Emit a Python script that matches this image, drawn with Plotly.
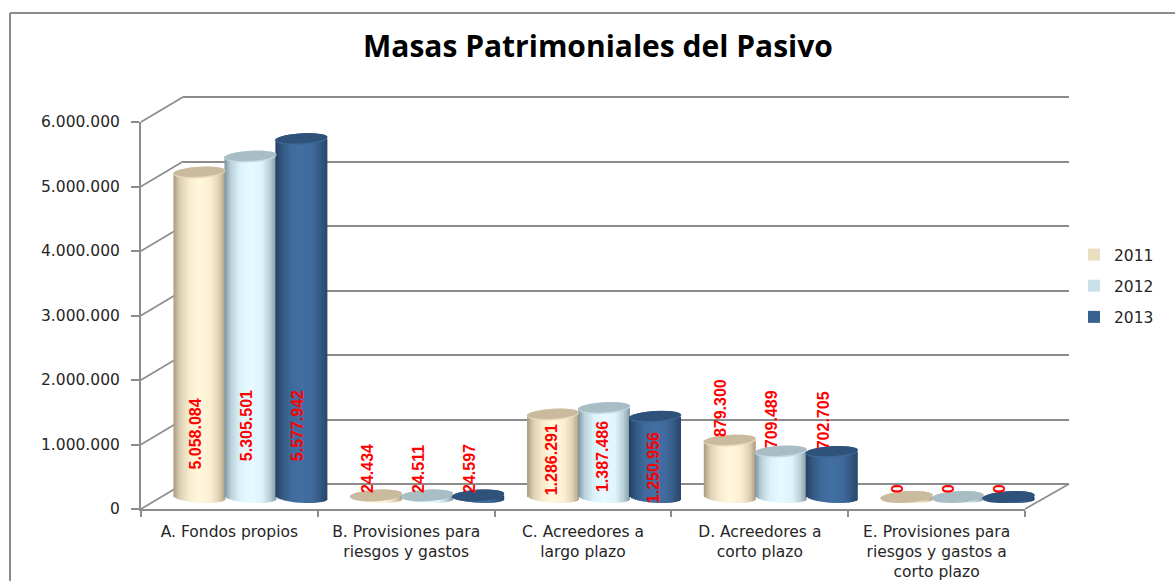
import math
import plotly.graph_objects as go

CATEGORIES = ["A. Fondos propios", "B. Provisiones para<br>riesgos y gastos", "C. Acreedores a<br>largo plazo",
              "D. Acreedores a<br>corto plazo", "E. Provisiones para<br>riesgos y gastos a<br>corto plazo"]
YEARS = ["2011", "2012", "2013"]
V2011 = [5058084, 24434, 1286291, 879300, 0]
V2012 = [5305501, 24511, 1387486, 709489, 0]
V2013 = [5577942, 24597, 1250956, 702705, 0]
Y_TICKS = [0, 1000000, 2000000, 3000000, 4000000, 5000000, 6000000]
TITLE = "Masas Patrimoniales del Pasivo"

# label anchor heights (axis units) and horizontal nudges (px)
LABEL_Y_2011 = [980000, 440000, 580000, 1390000, 130000]
LABEL_Y_2012 = [1110000, 440000, 630000, 1217000, 130000]
LABEL_Y_2013 = [1110000, 440000, 457000, 1200000, 130000]
LABEL_DX = [-4, -8, -1.5, -8.5, -9]

W, H = 1175, 581
FRONT_X = (141, 1025); FRONT_Y = (509, 122)
BACK_X = (183, 1069);  BACK_Y = (484, 97)
MID_X = (162, 1046);   MID_Y = (497, 112)
YMAX = 6000000
BELOW = 300000         # room under zero for the rounded cylinder bottoms
GRAY = "#8c8c8c"
TEXT = "#262626"
FONT = "DejaVu Sans"

def px(v): return v / W
def py(v): return 1 - v / H
def xdom(r): return [px(r[0]), px(r[1])]
def ydom(r): return [py(r[0]), py(r[1])]

SERIES = [V2011, V2012, V2013]
LABEL_Y = [LABEL_Y_2011, LABEL_Y_2012, LABEL_Y_2013]
STOPS = [
    [(0, "#a79a80"), (.12, "#dccfb2"), (.3, "#f8ecd0"), (.5, "#fff8dc"), (.72, "#fbefd2"), (.88, "#dfd0b2"), (1, "#ac9d83")],
    [(0, "#7b929b"), (.12, "#b9d0d9"), (.3, "#dcf2fa"), (.5, "#e6faff"), (.72, "#dff4fb"), (.88, "#b8ced6"), (1, "#8199a3")],
    [(0, "#233f62"), (.12, "#33577f"), (.3, "#3f6a9d"), (.5, "#426ea3"), (.72, "#3f6a9d"), (.88, "#33567e"), (1, "#27466b")],
]
CAP = ["#cbbb9e", "#a9bdc4", "#2f527b"]
RIM = ["#e9d9ba", "#c4d8e0", "#3d6898"]

def hex2(c): return [int(c[i:i + 2], 16) for i in (1, 3, 5)]
def ramp(stops, t):
    for (a, ca), (b, cb) in zip(stops, stops[1:]):
        if t <= b:
            f = (t - a) / (b - a)
            A, B = hex2(ca), hex2(cb)
            return "rgb(%d,%d,%d)" % tuple(round(p + (q - p) * f) for p, q in zip(A, B))
    return stops[-1][1]

PXU = (MID_X[1] - MID_X[0]) / 5           # px per category
PYU = (MID_Y[0] - MID_Y[1]) / YMAX        # px per value unit
BAR_W = 52 / PXU
STEP = 51 / PXU
RY = 5.8 / PYU
TILT = 1.5 / PYU
N = 26

fig = go.Figure()
# back wall gridlines
fig.add_trace(go.Scatter(x=[0], y=[0], xaxis="x", yaxis="y", mode="markers", marker_opacity=0,
                         showlegend=False, hoverinfo="skip"))
# front axes
fig.add_trace(go.Scatter(x=CATEGORIES, y=[0] * 5, xaxis="x2", yaxis="y2", mode="markers", marker_opacity=0,
                         showlegend=False, hoverinfo="skip"))
idx = list(range(len(CATEGORIES)))
shapes = []
for s, vals in enumerate(SERIES):
    left = (s - 1) * STEP - BAR_W / 2
    sw = BAR_W / N
    for k in range(N):
        t = (k + .5) / N
        u = 2 * t - 1
        bow = math.sqrt(max(0, 1 - u * u))
        base = -RY * bow - TILT * u
        fig.add_trace(go.Bar(
            x=idx, y=[v - base for v in vals], base=[base] * 5,
            offset=left + k * sw, width=sw * (1.6 if k < N - 1 else 1),
            marker=dict(color=ramp(STOPS[s], t), line_width=0),
            xaxis="x3", yaxis="y3", name=YEARS[s], legendgroup=YEARS[s],
            showlegend=(k == 5), hoverinfo="skip"))
    for i, v in enumerate(vals):
        cx = i + (s - 1) * STEP
        def ell(cy, ry):
            pts = []
            for a in range(0, 360, 10):
                r = math.radians(a)
                pts.append((cx + BAR_W / 2 * math.cos(r), cy + ry * math.sin(r) + TILT * math.cos(r)))
            return "M" + "L".join(f"{x:.5f},{y:.1f}" for x, y in pts) + "Z"
        for path, col in ((ell(v, RY), CAP[s] if v < 100000 else RIM[s]),
                          (ell(v + .12 * RY, .85 * RY), CAP[s])):
            shapes.append(dict(type="path", path=path, xref="x3", yref="y3", fillcolor=col, line_width=0, layer="above"))

# floor and wall diagonals
for fy, by in zip([FRONT_Y[0] + (FRONT_Y[1] - FRONT_Y[0]) * t / YMAX for t in Y_TICKS],
                  [BACK_Y[0] + (BACK_Y[1] - BACK_Y[0]) * t / YMAX for t in Y_TICKS]):
    shapes.append(dict(type="line", xref="paper", yref="paper", x0=px(FRONT_X[0]), y0=py(fy), x1=px(BACK_X[0]), y1=py(by),
                       line=dict(color=GRAY, width=1.6), layer="below"))
shapes.append(dict(type="line", xref="paper", yref="paper", x0=px(FRONT_X[1]), y0=py(FRONT_Y[0]), x1=px(BACK_X[1]), y1=py(BACK_Y[0]),
                   line=dict(color=GRAY, width=1.6), layer="below"))
# outer chart frame
shapes.append(dict(type="line", xref="paper", yref="paper", x0=px(10), y0=py(13), x1=1, y1=py(13), line=dict(color=GRAY, width=2), layer="below"))
shapes.append(dict(type="line", xref="paper", yref="paper", x0=px(10), y0=py(13), x1=px(10), y1=0, line=dict(color=GRAY, width=2), layer="below"))

annotations = [dict(text=f"<b>{TITLE}</b>", xref="paper", yref="paper", x=px(598.5), y=py(45), yanchor="middle", showarrow=False,
                    font=dict(family="Open Sans", size=30, color="#000000"))]
for s, vals in enumerate(SERIES):
    for i, v in enumerate(vals):
        annotations.append(dict(
            text="<b>" + f"{v:,d}".replace(",", ".") + "</b>", xref="x3", yref="y3",
            x=i + (s - 1) * STEP, y=LABEL_Y[s][i], xshift=LABEL_DX[i], showarrow=False, textangle=-90,
            font=dict(family="Liberation Sans", size=16, color="#ff0000")))

PAD = 0.01  # back wall runs slightly past its end gridlines so that both are drawn
axis_off = dict(showgrid=False, zeroline=False, showticklabels=False, ticks="", showline=False, fixedrange=True)
pad_px = (BACK_Y[0] - BACK_Y[1]) * PAD
fig.update_layout(
    width=W, height=H, margin=dict(l=0, r=0, t=0, b=0, autoexpand=False), paper_bgcolor="#ffffff", plot_bgcolor="rgba(0,0,0,0)",
    barmode="overlay", separators=",.", showlegend=True, font=dict(family=FONT, color=TEXT),
    xaxis=dict(domain=xdom(BACK_X), range=[0, 1], **axis_off),
    yaxis=dict(domain=ydom((BACK_Y[0] + pad_px, BACK_Y[1] - pad_px)), range=[-PAD * YMAX, (1 + PAD) * YMAX], tickvals=Y_TICKS,
               showgrid=True, gridcolor=GRAY, gridwidth=1.6,
               zeroline=False, showticklabels=False, ticks="", showline=False, fixedrange=True, anchor="x"),
    xaxis2=dict(domain=xdom(FRONT_X), type="category", categoryorder="array", categoryarray=CATEGORIES, anchor="y2",
                range=[-.5, 4.5], tickson="boundaries", ticks="outside", ticklen=6, ticklabelstandoff=7, tickcolor=GRAY, tickwidth=1.5, showline=True, linecolor=GRAY,
                linewidth=2, showgrid=False, zeroline=False, tickfont=dict(family=FONT, size=15.5, color=TEXT), tickangle=0, fixedrange=True),
    yaxis2=dict(domain=ydom(FRONT_Y), range=[0, YMAX], tickvals=Y_TICKS, tickformat=",d", anchor="x2", ticks="outside", ticklen=8,
                ticklabelstandoff=8, tickcolor=GRAY, tickwidth=1.5, showline=True, linecolor=GRAY, linewidth=2, showgrid=False, zeroline=False,
                tickfont=dict(family=FONT, size=15.5, color=TEXT), fixedrange=True),
    xaxis3=dict(domain=xdom(MID_X), range=[-.5, 4.5], anchor="y3", **axis_off),
    yaxis3=dict(domain=ydom((MID_Y[0] + BELOW * PYU, MID_Y[1])), range=[-BELOW, YMAX], anchor="x3", **axis_off),
    legend=dict(x=px(1074), y=py(238), xanchor="left", yanchor="top", bgcolor="rgba(0,0,0,0)", font=dict(family=FONT, size=15.5, color=TEXT),
                tracegroupgap=8, traceorder="grouped", itemclick=False, itemdoubleclick=False),
    shapes=shapes, annotations=annotations,
)
fig.write_html("out.html", config={"displayModeBar": False}, post_script="document.body.style.margin='0';")
